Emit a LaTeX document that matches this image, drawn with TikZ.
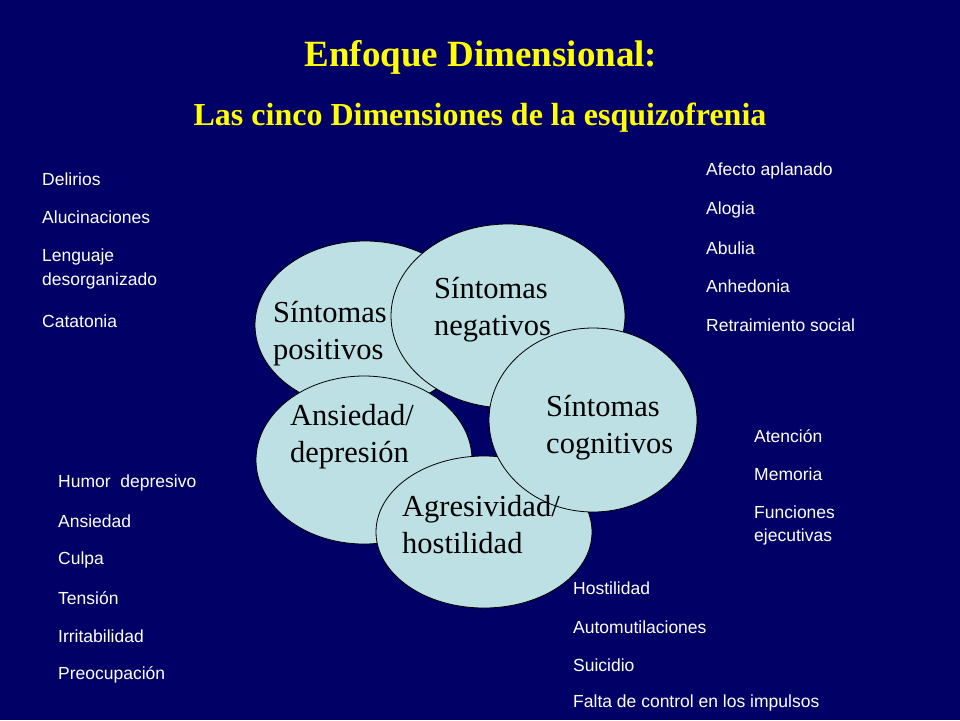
\documentclass[tikz,border=0pt]{standalone}
\usepackage{fontspec}
\setmainfont{Liberation Serif}
\newfontfamily\sidefont{Liberation Sans}
\begin{document}
\begin{tikzpicture}[x=1pt,y=-1pt,
  blob/.style={draw=black,line width=0.8pt,fill=bubble},
  etext/.style={anchor=west,align=left,font=\fontsize{30.5}{37}\selectfont,text=black,inner sep=0pt},
  side/.style={anchor=west,font=\sidefont\fontsize{17.5}{18}\selectfont,text=white,inner sep=0pt}]
\definecolor{bg}{HTML}{000066}
\definecolor{bubble}{HTML}{BCE0E3}
\definecolor{ttl}{HTML}{FFFF00}
\fill[bg] (0,0) rectangle (960,720);
\useasboundingbox (0,0) rectangle (960,720);
\node[text=ttl,font=\bfseries\fontsize{37}{42}\selectfont] (t1) at (481,57) {Enfoque Dimensional:};
\node[text=ttl,font=\bfseries\fontsize{32}{36}\selectfont] (t2) at (480,118) {Las cinco Dimensiones de la esquizofrenia};
\draw[blob] (365,325) ellipse (110 and 84);
\draw[blob] (508,316) ellipse (117 and 92);
\draw[blob] (364,460) ellipse (108 and 84);
\draw[blob] (484,532) ellipse (108 and 76);
\draw[blob] (593,420) ellipse (104 and 92);
\node[etext] (p) at (273,334) {Síntomas\\positivos};
\node[etext] (n) at (434,310) {Síntomas\\negativos};
\node[etext] (a) at (290,437) {Ansiedad/\\depresión};
\node[etext] (g) at (402,525) {Agresividad/\\hostilidad};
\node[etext] (c) at (546,428) {Síntomas\\cognitivos};
\node[side] (l1) at (42,179) {Delirios};
\node[side] (l2) at (42,217) {Alucinaciones};
\node[side] (l3) at (42,257) {Lenguaje};
\node[side] (l4) at (42,281) {desorganizado};
\node[side] (l5) at (42,321) {Catatonia};
\node[side] (r1) at (706,171) {Afecto aplanado};
\node[side] (r2) at (706,210) {Alogia};
\node[side] (r3) at (706,248) {Abulia};
\node[side] (r4) at (706,286) {Anhedonia};
\node[side] (r5) at (706,325) {Retraimiento social};
\node[side] (m1) at (754,436) {Atención};
\node[side] (m2) at (754,474) {Memoria};
\node[side] (m3) at (754,512) {Funciones};
\node[side] (m4) at (754,537) {ejecutivas};
\node[side] (b1) at (58,483) {Humor\ \ depresivo};
\node[side] (b2) at (58,521) {Ansiedad};
\node[side] (b3) at (58,560) {Culpa};
\node[side] (b4) at (58,598) {Tensión};
\node[side] (b5) at (58,636) {Irritabilidad};
\node[side] (b6) at (58,675) {Preocupación};
\node[side] (h1) at (573,588) {Hostilidad};
\node[side] (h2) at (573,627) {Automutilaciones};
\node[side] (h3) at (573,665) {Suicidio};
\node[side] (h4) at (573,703) {Falta de control en los impulsos};
\end{tikzpicture}
\end{document}
